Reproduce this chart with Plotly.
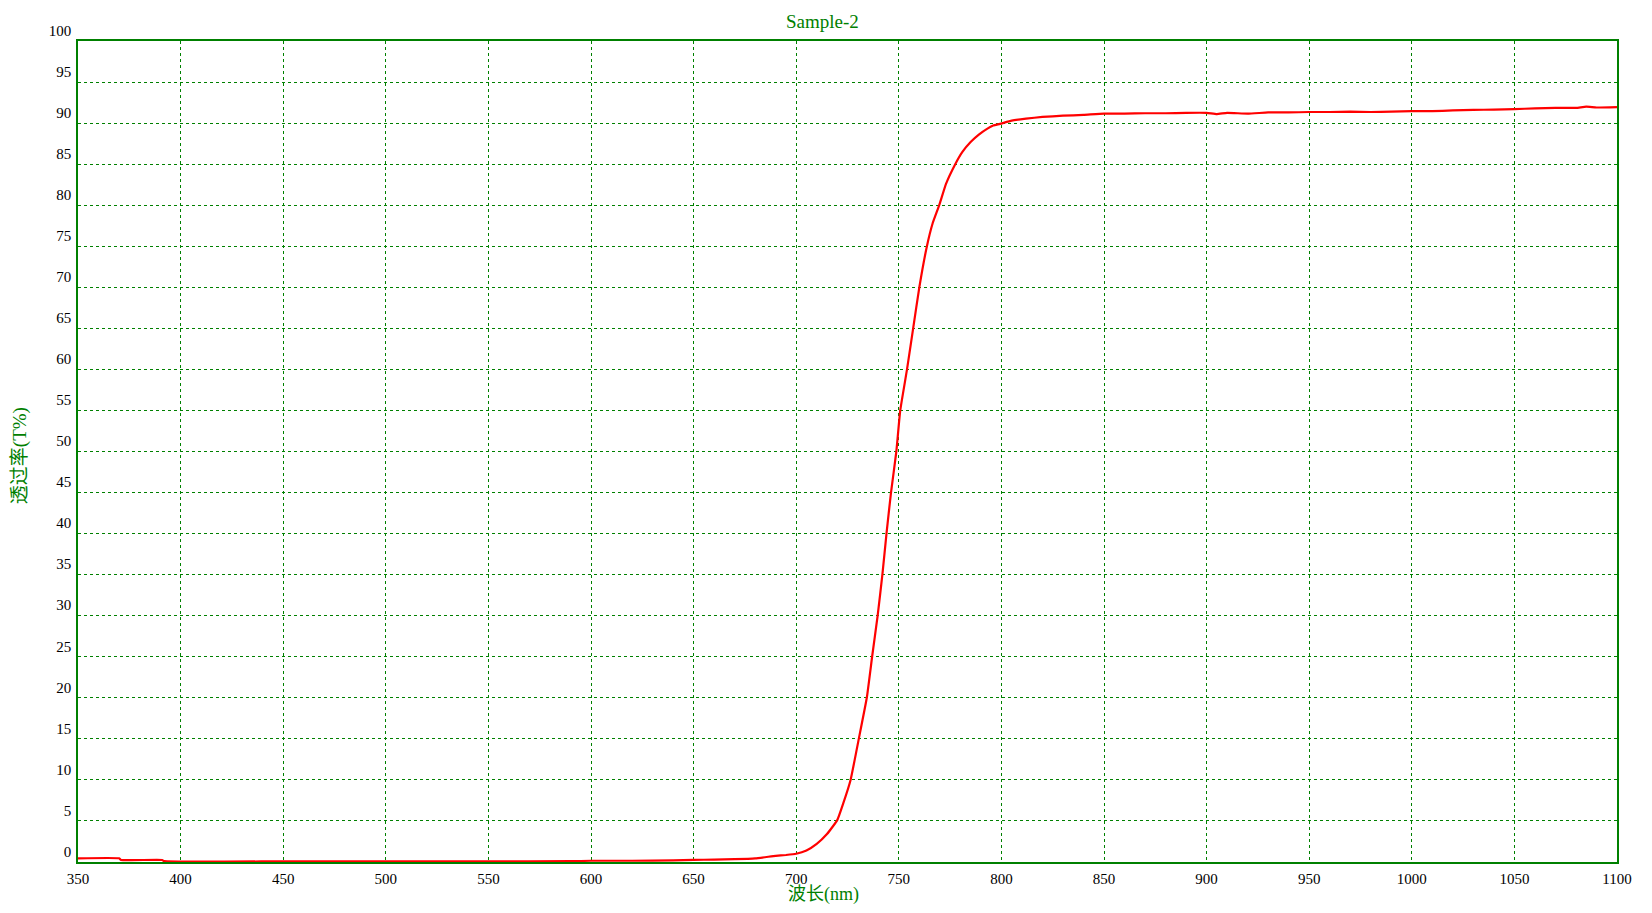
import plotly.graph_objects as go

wavelength = [350, 370, 371, 391, 392, 450, 500, 550, 590, 600, 620, 640, 650, 660, 670, 680,
              690, 695, 700, 705, 710, 715, 720, 723, 726.5, 730.5, 734.4, 737, 739.7, 742,
              744, 746.2, 748.8, 750.7, 754, 757, 760, 763.7, 766.5, 769.7, 773, 777.5, 781,
              785, 789, 793, 796, 799.3, 805, 812, 820, 830, 840, 850, 860, 870, 880, 890,
              900, 905, 910, 920, 930, 940, 950, 960, 970, 980, 990, 1000, 1010, 1020, 1030,
              1040, 1050, 1060, 1070, 1080, 1085, 1090, 1100]
transmittance = [0.45, 0.45, 0.25, 0.25, 0.1, 0.08, 0.08, 0.08, 0.1, 0.15, 0.15, 0.2, 0.25, 0.3, 0.35, 0.45,
                 0.75, 0.85, 1.0, 1.4, 2.2, 3.4, 5.1, 7.2, 10, 15, 20, 25, 30, 35,
                 40, 45, 50, 55, 60, 65, 70, 75, 77.8, 80, 82.6, 85, 86.5,
                 87.7, 88.6, 89.3, 89.7, 89.9, 90.3, 90.55, 90.75, 90.9, 91.0, 91.15, 91.15, 91.2, 91.2, 91.25,
                 91.25, 91.1, 91.25, 91.15, 91.3, 91.3, 91.35, 91.35, 91.4, 91.35, 91.4, 91.45, 91.45, 91.55, 91.6,
                 91.65, 91.7, 91.8, 91.85, 91.85, 92.0, 91.9, 91.95]

x_ticks = list(range(350, 1101, 50))
y_ticks = list(range(0, 101, 5))

GREEN = "#008000"
SERIF = "Liberation Serif, Times New Roman, serif"
CJK = "Liberation Serif, Noto Sans CJK SC, serif"

fig = go.Figure()
fig.add_trace(go.Scatter(x=wavelength, y=transmittance, mode="lines", line_shape="spline",
                         line=dict(color="#ff0000", width=2.2, smoothing=0.4), showlegend=False))

# page has an ~8px body margin; reference plot area spans x 78..1622, y 41..862
OFF = 8
W, H = 1636, 897
L = 78 - OFF
T = 41 - OFF
R = W - (1622 - OFF)
B = H - (862 - OFF)

fig.update_layout(
    width=W, height=H,
    margin=dict(l=L, r=R, t=T, b=B),
    plot_bgcolor="white", paper_bgcolor="white",
    font=dict(family=SERIF, size=15, color="black"),
)
fig.update_xaxes(
    range=[350, 1100], tickvals=x_ticks, ticktext=[str(v) for v in x_ticks],
    showline=True, linecolor=GREEN, linewidth=1.5, mirror=True,
    showgrid=True, gridcolor=GREEN, gridwidth=1, griddash="3px,3px",
    zeroline=False, ticks="", ticklabelstandoff=2,
    tickfont=dict(family=SERIF, size=15, color="black"),
)
fig.update_yaxes(
    range=[0, 100], tickvals=y_ticks, ticktext=[str(v) for v in y_ticks],
    showline=True, linecolor=GREEN, linewidth=1.5, mirror=True,
    showgrid=True, gridcolor=GREEN, gridwidth=1, griddash="3px,3px",
    zeroline=False, ticks="", ticklabelposition="outside top", ticklabelstandoff=2,
    tickfont=dict(family=SERIF, size=15, color="black"),
)

pw = W - L - R
ph = H - T - B
fig.add_annotation(text="Sample-2", xref="paper", yref="paper",
                   x=(825 - 78) / pw, y=1 + (41 - 21) / ph, showarrow=False,
                   font=dict(family=SERIF, size=19, color=GREEN), xanchor="center", yanchor="middle")
fig.add_annotation(text="波长(nm)", xref="paper", yref="paper",
                   x=(826 - 78) / pw, y=-(894 - 862) / ph, showarrow=False,
                   font=dict(family=CJK, size=18, color=GREEN), xanchor="center", yanchor="middle")
fig.add_annotation(text="透过率(T%)", xref="paper", yref="paper",
                   x=-(78 - 20) / pw, y=(862 - 456) / ph, showarrow=False, textangle=-90,
                   font=dict(family=CJK, size=19, color=GREEN), xanchor="center", yanchor="middle")

fig.write_html("out.html")
